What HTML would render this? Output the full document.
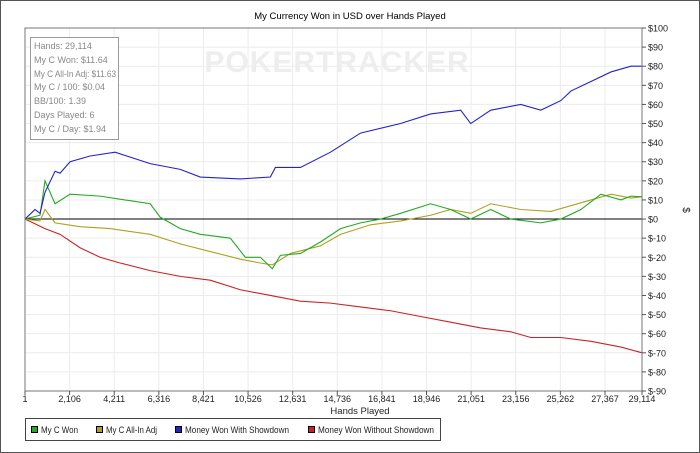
<!DOCTYPE html>
<html><head><meta charset="utf-8"><style>
body{margin:0;background:#fff;font-family:"Liberation Sans",sans-serif}
#wrap{position:relative;width:700px;height:453px;overflow:hidden}
</style></head><body>
<div id="wrap">
<svg id="svg" width="700" height="453" xmlns="http://www.w3.org/2000/svg" font-family="Liberation Sans, sans-serif">
<rect x="0.5" y="0.5" width="699" height="452" fill="#fff" stroke="#555"/>
<text x="350" y="19" text-anchor="middle" font-size="9.5" fill="#000">My Currency Won in USD over Hands Played</text>
<text x="337" y="72" text-anchor="middle" font-size="30" font-weight="bold" fill="#eeeeee" letter-spacing="1">POKERTRACKER</text>
<g id="grid"></g>
<g id="series"></g>
<rect x="25" y="28" width="617" height="363" fill="none" stroke="#777"/>
<g id="axes" font-size="9" fill="#222"></g>
<text x="360" y="414" text-anchor="middle" font-size="9.5" fill="#222">Hands Played</text>
<text x="0" y="0" font-size="10" fill="#222" transform="translate(683,210) rotate(90)" text-anchor="middle">$</text>
<g>
<rect x="30.5" y="37.5" width="88" height="102" fill="#fff" stroke="#999"/>
<g font-size="9" fill="#888">
<text x="34" y="49">Hands: 29,114</text>
<text x="34" y="63">My C Won: $11.64</text>
<text x="34" y="77" textLength="82" lengthAdjust="spacingAndGlyphs">My C All-In Adj: $11.63</text>
<text x="34" y="90">My C / 100: $0.04</text>
<text x="34" y="104">BB/100: 1.39</text>
<text x="34" y="118">Days Played: 6</text>
<text x="34" y="132">My C / Day: $1.94</text>
</g></g>
<g>
<rect x="25.5" y="418.5" width="415" height="22" fill="#fff" stroke="#444"/>
<g font-size="9" fill="#222">
<g><rect x="31.5" y="426.5" width="6" height="6" fill="#22aa22" stroke="#000"/><text x="41" y="433" textLength="37" lengthAdjust="spacingAndGlyphs">My C Won</text></g>
<g><rect x="96.5" y="426.5" width="6" height="6" fill="#b0a020" stroke="#000"/><text x="106" y="433" textLength="51" lengthAdjust="spacingAndGlyphs">My C All-In Adj</text></g>
<g><rect x="175.5" y="426.5" width="6" height="6" fill="#2222cc" stroke="#000"/><text x="185" y="433" textLength="104" lengthAdjust="spacingAndGlyphs">Money Won With Showdown</text></g>
<g><rect x="308.5" y="426.5" width="6" height="6" fill="#cc2222" stroke="#000"/><text x="318" y="433" textLength="116" lengthAdjust="spacingAndGlyphs">Money Won Without Showdown</text></g>
</g></g>
</svg>
</div>
<script>
const xTicks=[1,2106,4211,6316,8421,10526,12631,14736,16841,18946,21051,23156,25262,27367,29114];
const yTicks=[100,90,80,70,60,50,40,30,20,10,0,-10,-20,-30,-40,-50,-60,-70,-80,-90];
const blueHands=[1,473,709,945,1418,1654,2127,3072,4253,5908,7326,8271,10161,11579,11815,12997,14415,15832,17723,19141,20559,21032,21977,23395,24340,25286,25758,26704,27649,28594,29114];
const blueVals=[0,5,3,14,25,24,30,33,35,29,26,22,21,22,27,27,35,45,50,55,57,50,57,60,57,62,67,72,77,80,80];
const greenHands=[1,709,945,1418,2127,3545,5908,6380,7326,8271,9689,10397,11106,11673,12051,12997,13942,14887,15832,16778,17723,19141,20086,21032,21977,22922,24340,25286,26231,27176,28122,28594,29114];
const greenVals=[0,2,20,8,13,12,8,1,-5,-8,-10,-20,-20,-26,-19,-18,-12,-5,-2,0,3,8,5,0,5,0,-2,0,5,13,10,12,11.64];
const yellowHands=[1,709,945,1418,2599,4017,5908,7326,8743,10161,11106,11673,12524,13942,14887,16305,17723,19141,20086,21032,21977,23395,24813,25758,26704,27649,28594,29114];
const yellowVals=[0,-1,5,-2,-4,-5,-8,-13,-17,-21,-23,-24,-18,-14,-8,-3,-1,2,5,3,8,5,4,7,10,13,11,11.63];
const redHands=[1,945,1654,2599,3545,4490,5908,7326,8743,10161,11579,12997,14415,15832,17250,18668,20086,21504,22922,23868,25286,26704,28122,29114];
const redVals=[0,-5,-8,-15,-20,-23,-27,-30,-32,-37,-40,-43,-44,-46,-48,-51,-54,-57,-59,-62,-62,-64,-67,-70];

const NS='http://www.w3.org/2000/svg';
const X0=25,X1=642,Y0=28,Y1=391;
const xs=h=>X0+(h-1)/(29114-1)*(X1-X0);
const ys=v=>Y0+(100-v)/190*(Y1-Y0);
function mk(tag,attrs,parent){const e=document.createElementNS(NS,tag);for(const k in attrs)e.setAttribute(k,attrs[k]);parent.appendChild(e);return e;}
const grid=document.getElementById('grid'),axes=document.getElementById('axes'),series=document.getElementById('series');
xTicks.forEach(t=>{const x=xs(t);
 const g=mk('line',{x1:x,x2:x,y1:Y0,y2:Y1,stroke:'#ececec'},grid);
 
 
 const tk=mk('line',{x1:x,x2:x,y1:Y1,y2:Y1+4,stroke:'#555'},axes);
 
 
 const l=mk('text',{x:x,y:402,'text-anchor':'middle'},axes);l.textContent=t.toLocaleString('en-US');
 
 
});
yTicks.forEach(t=>{const y=ys(t);
 const g=mk('line',{x1:X0,x2:X1,y1:y,y2:y,stroke:t===0?'#000':'#ececec'},grid);
 
 
 const tk=mk('line',{x1:X1,x2:X1+4,y1:y,y2:y,stroke:'#555'},axes);
 
 
 const l=mk('text',{x:X1+6,y:y+3.5},axes);l.textContent='$'+t;
 
 
});
function line(h,v,color,name){
 const p=mk('polyline',{points:h.map((hh,i)=>xs(hh)+','+ys(v[i])).join(' '),fill:'none',stroke:color,'stroke-width':1.1},series);
 
 
}
line(redHands,redVals,'#cc2222','line-without-showdown');
line(yellowHands,yellowVals,'#b0a020','line-all-in-adj');
line(greenHands,greenVals,'#22aa22','line-my-c-won');
line(blueHands,blueVals,'#2222cc','line-with-showdown');
</script>
</body></html>
